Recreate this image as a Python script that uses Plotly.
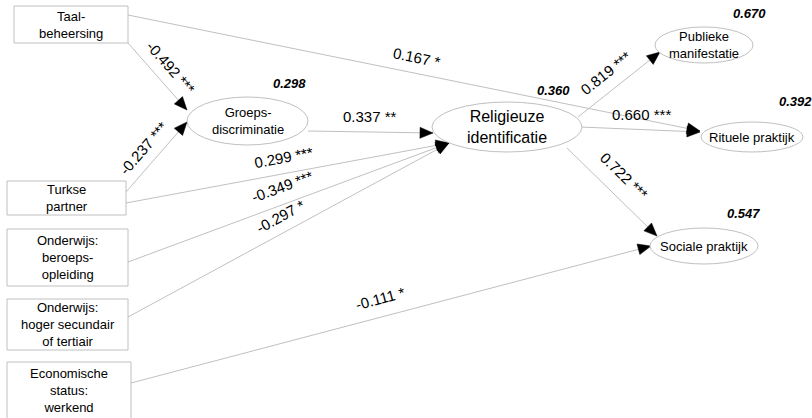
import math
import plotly.graph_objects as go

# ---------------- data ----------------
exog_labels = ["Taal-<br>beheersing", "Turkse<br>partner", "Onderwijs:<br>beroeps-<br>opleiding",
               "Onderwijs:<br>hoger secundair<br>of tertiair", "Economische<br>status:<br>werkend"]
endog_labels = ["Groeps-<br>discriminatie", "Religieuze<br>identificatie", "Publieke<br>manifestatie",
                "Rituele praktijk", "Sociale praktijk"]
r2_values = [0.298, 0.360, 0.670, 0.392, 0.547]

path_from = ["Taal", "Taal", "Turkse", "Groeps", "Turkse", "Beroeps", "Hoger", "Relig", "Relig", "Relig", "Econ"]
path_to = ["Ritueel", "Groeps", "Groeps", "Relig", "Relig", "Relig", "Relig", "Publiek", "Ritueel", "Sociaal", "Sociaal"]
path_coef = [0.167, -0.492, -0.237, 0.337, 0.299, -0.349, -0.297, 0.819, 0.660, 0.722, -0.111]
path_sig = ["*", "***", "***", "**", "***", "***", "*", "***", "***", "***", "*"]

# ---------------- layout (pixel positions) ----------------
box_pos = [(14, 128, 6, 43), (7, 126, 181, 215), (7, 128, 229, 286), (7, 128, 299, 350), (7, 131, 362, 425)]
ell_pos = [(187, 308, 97, 145), (432, 582, 102, 152), (655, 753, 27, 63), (701, 803, 122, 152), (650, 758, 228, 264)]
ell_font = [13, 16, 13, 13, 13]
r2_pos = [(289, 83), (553, 90), (749, 13), (795, 101), (743, 213)]
edge_start = [(128, 15), (128, 43), (126, 192), (308, 131), (126, 203), (128, 262), (128, 317),
              (578, 117), (580, 127), (567, 148), (131, 383)]
edge_end = [(700, 131), (187, 110), (187, 122), (433, 133), (449, 143), (449, 143), (449, 143),
            (660, 52), (700, 132), (657, 236), (651, 246)]
label_pos = [(417, 57), (171, 67), (143, 148), (370, 116), (283, 157), (282, 186), (280, 216),
             (605, 73), (641, 114), (624, 175), (380, 298)]

FONT = "Arial, Liberation Sans, sans-serif"
GRAY = "#c0c0c0"

shapes = []
annotations = []

# edges
for (x0, y0), (x1, y1), (lx, ly), c, s in zip(edge_start, edge_end, label_pos, path_coef, path_sig):
    shapes.append(dict(type="line", x0=x0, y0=y0, x1=x1, y1=y1, xref="x", yref="y",
                       line=dict(color=GRAY, width=1), layer="below"))
    dx, dy = x1 - x0, y1 - y0
    L = math.hypot(dx, dy)
    ux, uy = dx / L, dy / L
    nx, ny = -uy, ux
    hl, hw = 13, 5.5
    bx, by = x1 - hl * ux, y1 - hl * uy
    path = (f"M {x1:.1f},{y1:.1f} L {bx + hw * nx:.1f},{by + hw * ny:.1f} "
            f"L {bx - hw * nx:.1f},{by - hw * ny:.1f} Z")
    shapes.append(dict(type="path", path=path, xref="x", yref="y",
                       fillcolor="black", line=dict(color="black", width=0.5)))
    ang = math.degrees(math.atan2(dy, dx))
    if abs(ang) < 3:
        ang = 0
    annotations.append(dict(x=lx, y=ly, xref="x", yref="y", text=f"{c:.3f} {s}", showarrow=False,
                            textangle=ang, xanchor="center", yanchor="middle",
                            font=dict(family=FONT, size=15, color="black")))

# boxes
for lab, (x0, x1, y0, y1) in zip(exog_labels, box_pos):
    shapes.append(dict(type="rect", x0=x0, x1=x1, y0=y0, y1=y1, xref="x", yref="y",
                       line=dict(color=GRAY, width=1), fillcolor="white"))
    annotations.append(dict(x=(x0 + x1) / 2, y=(y0 + min(y1, 418)) / 2,
                            xref="x", yref="y", text=lab, showarrow=False,
                            xanchor="center", yanchor="middle",
                            font=dict(family=FONT, size=13, color="black")))

# ellipses
for lab, (x0, x1, y0, y1), fs in zip(endog_labels, ell_pos, ell_font):
    shapes.append(dict(type="circle", x0=x0, x1=x1, y0=y0, y1=y1, xref="x", yref="y",
                       line=dict(color=GRAY, width=1), fillcolor="white"))
    annotations.append(dict(x=(x0 + x1) / 2, y=(y0 + y1) / 2, xref="x", yref="y", text=lab,
                            showarrow=False, xanchor="center", yanchor="middle",
                            font=dict(family=FONT, size=fs, color="black")))

# R-squared
for v, (x, y) in zip(r2_values, r2_pos):
    annotations.append(dict(x=x, y=y, xref="x", yref="y", text=f"<b><i>{v:.3f}</i></b>",
                            showarrow=False, xanchor="center", yanchor="middle",
                            font=dict(family=FONT, size=13, color="black")))

fig = go.Figure()
fig.add_trace(go.Scatter(x=[0, 812], y=[0, 418], mode="markers", marker=dict(opacity=0),
                         hoverinfo="skip", showlegend=False))
fig.update_layout(
    width=812, height=418, margin=dict(l=0, r=0, t=0, b=0),
    paper_bgcolor="white", plot_bgcolor="white",
    xaxis=dict(range=[0, 812], visible=False, fixedrange=True),
    yaxis=dict(range=[418, 0], visible=False, fixedrange=True),
    shapes=shapes, annotations=annotations, showlegend=False,
)
fig.write_html("out.html", config={"displayModeBar": False},
               post_script="document.body.style.margin='0';document.body.style.overflow='hidden';")
